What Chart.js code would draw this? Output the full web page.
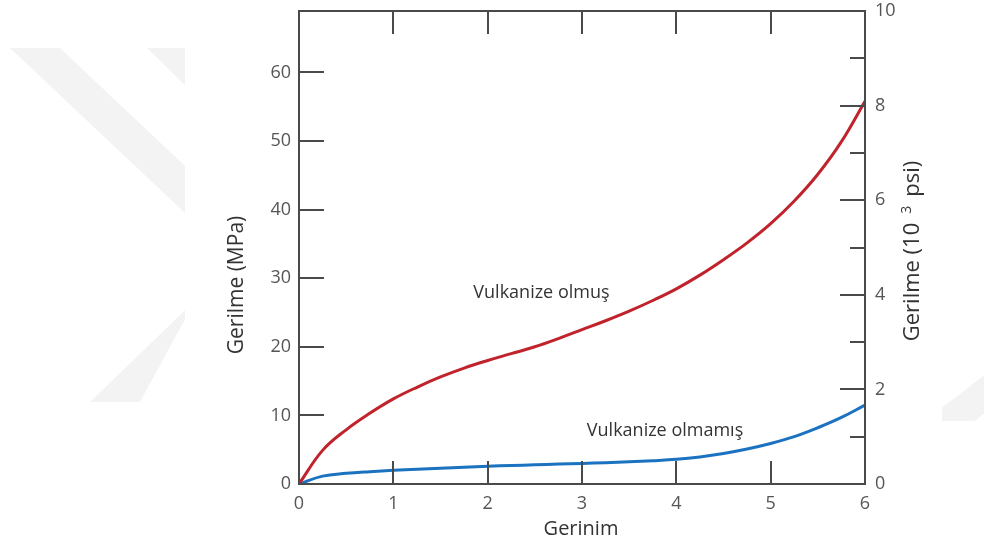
<!DOCTYPE html>
<html>
<head>
<meta charset="utf-8">
<script src="https://cdn.jsdelivr.net/npm/chart.js@4"></script>
<style>
html,body{margin:0;padding:0;background:#fff;}
#wrap{width:984px;height:548px;position:relative;}
</style>
</head>
<body>
<div id="wrap"><canvas id="c" width="984" height="548"></canvas></div>
<script>
// ---- data ----
const strain = [0, 0.25, 0.5, 0.75, 1, 1.25, 1.5, 1.75, 2, 2.25, 2.5, 2.75, 3, 3.25, 3.5, 3.75, 4, 4.25, 4.5, 4.75, 5, 5.25, 5.5, 5.75, 6];
const vulkanizeOlmus = [0, 4.9, 7.9, 10.3, 12.4, 14.1, 15.6, 16.9, 18.0, 19.0, 20.0, 21.2, 22.5, 23.8, 25.2, 26.75, 28.45, 30.45, 32.7, 35.15, 37.95, 41.25, 45.15, 49.9, 55.8];
const vulkanizeOlmamis = [0, 1.15, 1.55, 1.8, 2.0, 2.15, 2.3, 2.45, 2.6, 2.7, 2.8, 2.9, 3.0, 3.1, 3.25, 3.4, 3.6, 3.95, 4.45, 5.1, 5.9, 6.9, 8.2, 9.7, 11.5];
const xTicks = [0, 1, 2, 3, 4, 5, 6];
const leftTicks = [0, 10, 20, 30, 40, 50, 60];
const rightTicks = [0, 1, 2, 3, 4, 5, 6, 7, 8, 9, 10];
const seriesNames = ['Vulkanize olmuş', 'Vulkanize olmamış'];
const labelAnchors = [[2.57, 27.8], [3.88, 7.8]]; // data coords of curve labels
const xTitle = 'Gerinim';
const yTitle = 'Gerilme (MPa)';
const y2TitleParts = ['Gerilme (10', '3', 'psi)'];
const KSI_TO_MPA = 6.895;

const FONT = '"Open Sans", "DejaVu Sans", sans-serif';
const TXT = '#555';

const pts = (ys) => strain.map((x, i) => ({x, y: ys[i]}));

const watermark = {
  id: 'watermark',
  beforeDraw(chart) {
    const ctx = chart.ctx;
    ctx.save();
    ctx.fillStyle = '#f3f3f3';
    ctx.beginPath(); ctx.rect(0, 0, 185, 548); ctx.clip();
    ctx.beginPath();
    ctx.moveTo(10, 48); ctx.lineTo(60, 48); ctx.lineTo(240, 218);
    ctx.lineTo(140, 402); ctx.lineTo(90, 402); ctx.lineTo(236, 261);
    ctx.closePath(); ctx.fill();
    ctx.beginPath();
    ctx.moveTo(147, 48); ctx.lineTo(200, 48); ctx.lineTo(200, 100); ctx.closePath(); ctx.fill();
    ctx.restore();
    ctx.save();
    ctx.fillStyle = '#f3f3f3';
    ctx.beginPath(); ctx.rect(942, 0, 42, 548); ctx.clip();
    ctx.beginPath();
    ctx.moveTo(1010, 355); ctx.lineTo(1030, 375); ctx.lineTo(975, 421); ctx.lineTo(925, 421); ctx.closePath(); ctx.fill();
    ctx.restore();
  }
};

const frame = {
  id: 'frame',
  afterDatasetsDraw(chart) {
    const {ctx, chartArea: a, scales} = chart;
    ctx.save();
    ctx.strokeStyle = '#4a4a4a';
    ctx.lineWidth = 2;
    ctx.strokeRect(a.left, a.top, a.right - a.left, a.bottom - a.top);
    ctx.beginPath();
    xTicks.filter(v => v > 0 && v < 6).forEach(v => {
      const x = Math.round(scales.x.getPixelForValue(v));
      ctx.moveTo(x, a.bottom); ctx.lineTo(x, a.bottom - 23);
      ctx.moveTo(x, a.top); ctx.lineTo(x, a.top + 23);
    });
    leftTicks.filter(v => v > 0).forEach(v => {
      const y = Math.round(scales.y.getPixelForValue(v));
      ctx.moveTo(a.left, y); ctx.lineTo(a.left + 25, y);
    });
    rightTicks.filter(v => v > 0 && v < 10).forEach(v => {
      const y = Math.round(scales.y2.getPixelForValue(v));
      ctx.moveTo(a.right, y); ctx.lineTo(a.right - (v % 2 === 0 ? 25 : 15), y);
    });
    ctx.stroke();

    // curve labels
    ctx.fillStyle = '#333';
    ctx.font = '18px ' + FONT;
    ctx.textAlign = 'center';
    ctx.textBaseline = 'middle';
    labelAnchors.forEach((p, i) => {
      ctx.fillText(seriesNames[i], scales.x.getPixelForValue(p[0]), scales.y.getPixelForValue(p[1]));
    });

    // axis titles
    ctx.fillStyle = '#333';
    ctx.font = '20px ' + FONT;
    ctx.fillText(xTitle, (a.left + a.right) / 2 - 1, 529);
    ctx.font = '21px ' + FONT;
    ctx.save();
    ctx.translate(237, 285); ctx.rotate(-Math.PI / 2);
    ctx.fillText(yTitle, 0, 0);
    ctx.restore();

    // right title with superscript
    ctx.save();
    ctx.translate(911, 251); ctx.rotate(-Math.PI / 2);
    ctx.textAlign = 'left';
    ctx.textBaseline = 'alphabetic';
    const big = '22px ' + FONT, small = '14px ' + FONT, gap = 9;
    ctx.font = big; const w0 = ctx.measureText(y2TitleParts[0]).width, w2 = ctx.measureText(y2TitleParts[2]).width;
    ctx.font = small; const w1 = ctx.measureText(y2TitleParts[1]).width;
    const total = w0 + gap + w1 + gap + w2;
    let xx = -total / 2;
    const base = 8;
    ctx.font = big; ctx.fillText(y2TitleParts[0], xx, base); xx += w0 + gap;
    ctx.font = small; ctx.fillText(y2TitleParts[1], xx, base - 8); xx += w1 + gap;
    ctx.font = big; ctx.fillText(y2TitleParts[2], xx, base);
    ctx.restore();
    ctx.restore();
  }
};

const noPadY = s => { s.paddingTop = 0; s.paddingBottom = 0; };

new Chart(document.getElementById('c'), {
  type: 'line',
  data: {
    datasets: [
      {label: seriesNames[0], data: pts(vulkanizeOlmus), borderColor: '#c0232c', borderWidth: 3,
       pointRadius: 0, tension: 0.4, yAxisID: 'y'},
      {label: seriesNames[1], data: pts(vulkanizeOlmamis), borderColor: '#1b72c0', borderWidth: 3,
       pointRadius: 0, tension: 0.4, yAxisID: 'y'}
    ]
  },
  plugins: [watermark, frame],
  options: {
    responsive: false,
    animation: false,
    events: [],
    layout: {padding: {left: 0, right: 0, top: 11, bottom: 0}},
    plugins: {legend: {display: false}, tooltip: {enabled: false}},
    scales: {
      x: {
        type: 'linear', min: 0, max: 6,
        afterFit: s => { s.height = 64; s.paddingLeft = 0; s.paddingRight = 0; },
        afterBuildTicks: s => { s.ticks = xTicks.map(v => ({value: v})); },
        grid: {display: false, drawTicks: false},
        border: {display: false},
        ticks: {padding: 9, color: TXT, font: {family: FONT, size: 18}, maxRotation: 0}
      },
      y: {
        type: 'linear', position: 'left', min: 0, max: 10 * KSI_TO_MPA,
        afterFit: s => { s.width = 299; noPadY(s); },
        afterBuildTicks: s => { s.ticks = leftTicks.map(v => ({value: v})); },
        grid: {display: false, drawTicks: false},
        border: {display: false},
        ticks: {padding: 8, color: TXT, font: {family: FONT, size: 18}}
      },
      y2: {
        type: 'linear', position: 'right', min: 0, max: 10,
        afterFit: s => { s.width = 119; noPadY(s); },
        afterBuildTicks: s => { s.ticks = rightTicks.map(v => ({value: v})); },
        grid: {display: false, drawTicks: false},
        border: {display: false},
        ticks: {padding: 10, color: TXT, font: {family: FONT, size: 18},
                callback: v => (v % 2 === 0 ? String(v) : '')}
      }
    }
  }
});
</script>
</body>
</html>
